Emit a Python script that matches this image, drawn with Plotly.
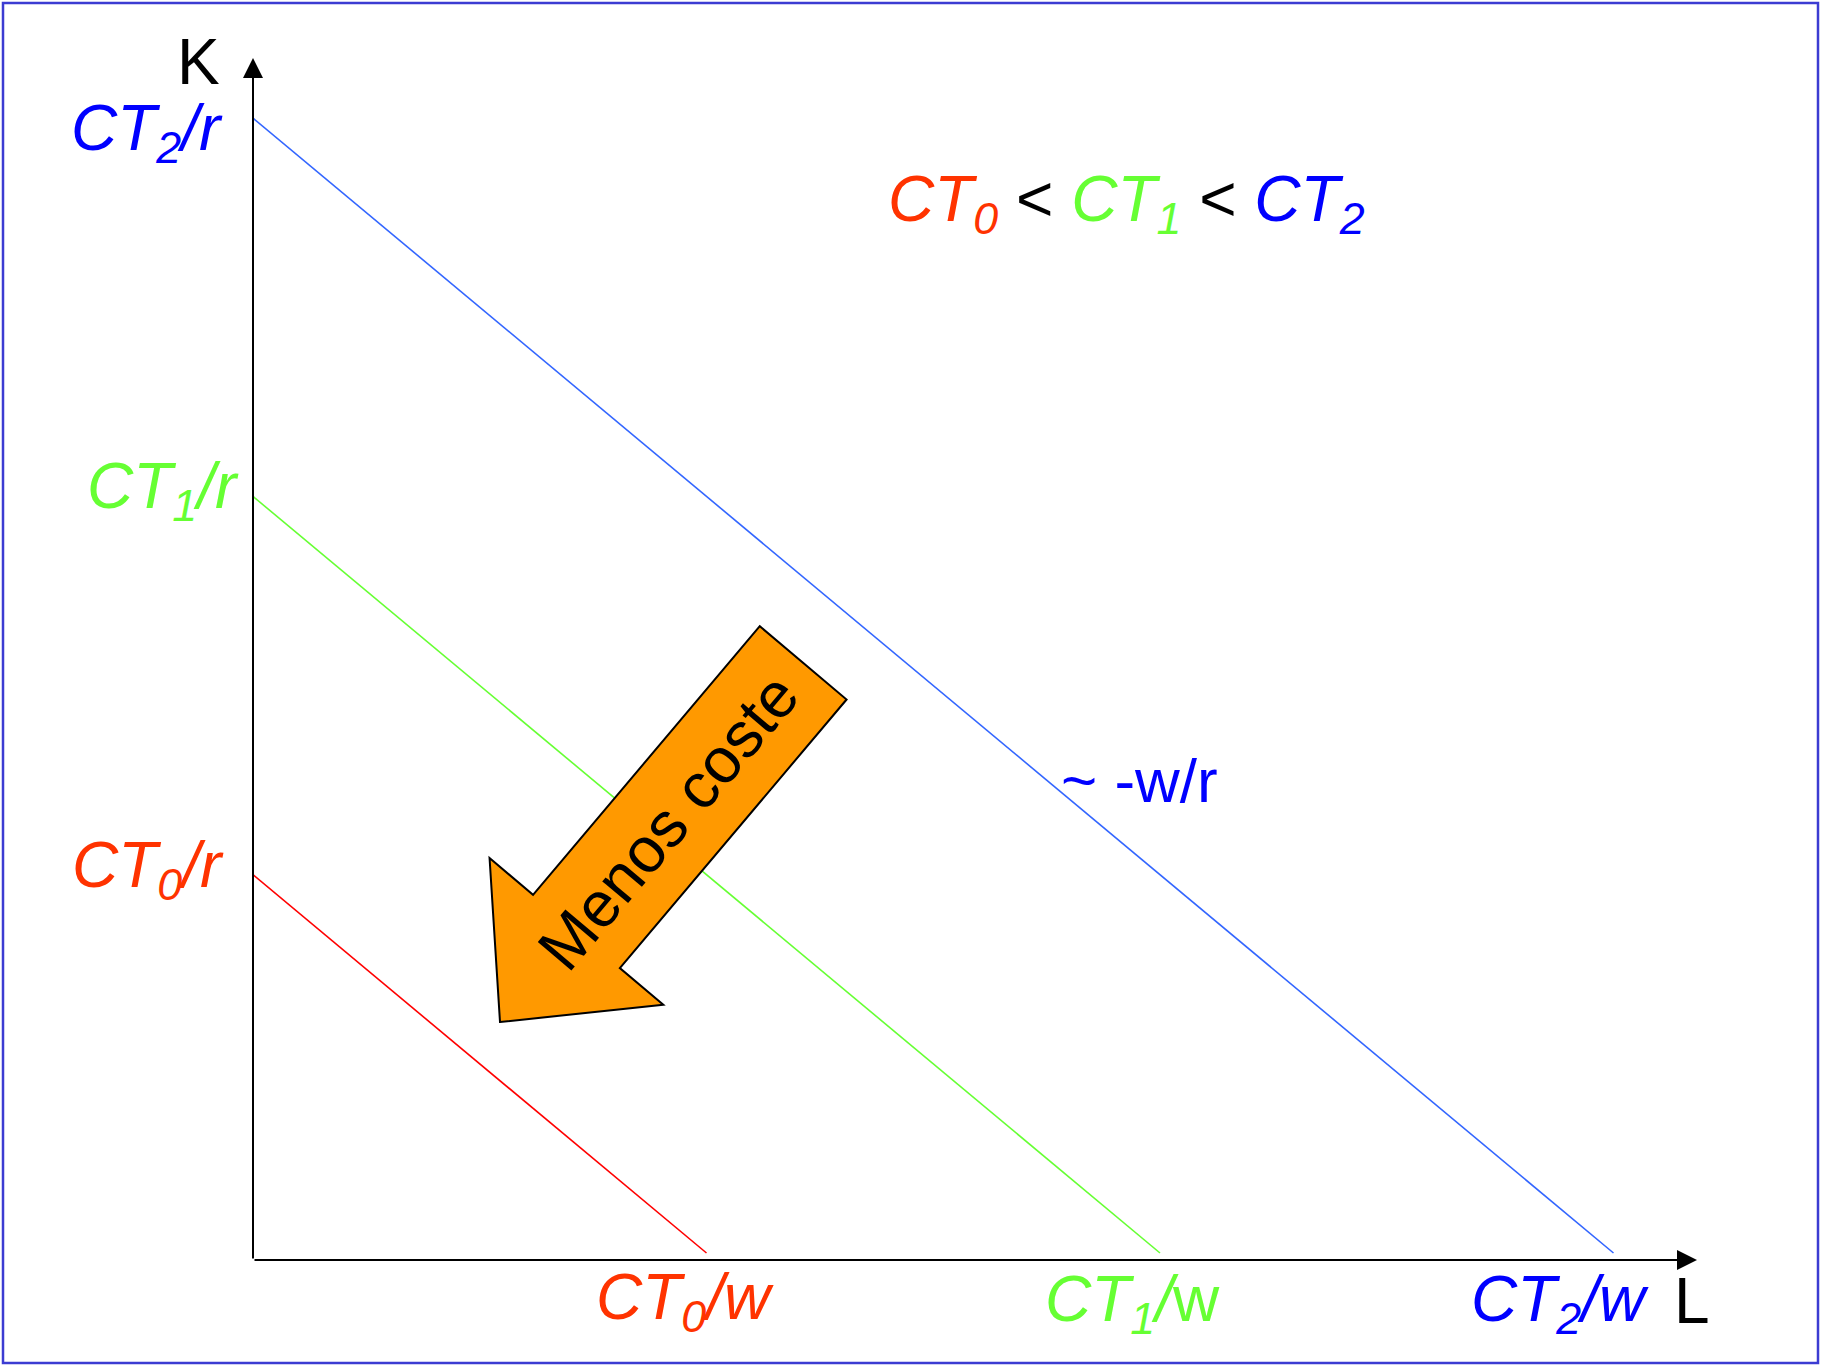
import math
import plotly.graph_objects as go

# ---------------- data ----------------
ct_levels = ["0", "1", "2"]            # subscripts of the cost levels CT0 < CT1 < CT2
K_intercepts = [1.0, 2.0, 3.0]         # CT/r  (capital axis intercepts)
L_intercepts = [1.0, 2.0, 3.0]         # CT/w  (labour axis intercepts)
line_colors = ["#ff0000", "#66ff33", "#3366ff"]
text_colors = ["#ff3300", "#66ff33", "#0000ff"]
w_italic = [True, False, True]         # the "w" in CT1/w is upright in the original

# ---------------- geometry (pixels <-> data) ----------------
W, H = 1821, 1366
OX, OY = 253.0, 1253.0     # pixel position of data origin
PX_L, PX_K = 453.5, 378.3  # pixels per data unit


def dx(px):
    return (px - OX) / PX_L


def dy(py):
    return (OY - py) / PX_K


FONT = "Liberation Sans, Arial, sans-serif"
FS = 64

fig = go.Figure()

# iso-cost lines
for k, col, lc in zip(K_intercepts, L_intercepts, line_colors):
    fig.add_trace(go.Scatter(x=[0, col], y=[k, 0], mode="lines",
                             line=dict(color=lc, width=1.6),
                             hoverinfo="skip", showlegend=False))

ann = []
shapes = []

# axes with arrow heads
axis_y = dy(1260)
ann.append(dict(x=dx(1697), y=axis_y, ax=0, ay=axis_y, xref="x", yref="y",
                axref="x", ayref="y", text="", showarrow=True, arrowhead=2,
                arrowsize=2, arrowwidth=2, arrowcolor="black", standoff=0))
ann.append(dict(x=0, y=dy(58), ax=0, ay=axis_y, xref="x", yref="y",
                axref="x", ayref="y", text="", showarrow=True, arrowhead=2,
                arrowsize=2, arrowwidth=2, arrowcolor="black", standoff=0))

# axis titles
ann.append(dict(x=dx(198), y=dy(62), xref="x", yref="y", text="K", showarrow=False,
                font=dict(family=FONT, size=FS, color="black")))
ann.append(dict(x=dx(1692), y=dy(1301), xref="x", yref="y", text="L", showarrow=False,
                font=dict(family=FONT, size=FS, color="black")))

# intercept labels on K axis (order: CT0, CT1, CT2)
k_xshift = [-27, -12, -28]
k_yshift = [6, 6, -14]
for i, (s, k, tc) in enumerate(zip(ct_levels, K_intercepts, text_colors)):
    ann.append(dict(x=0, y=k, xref="x", yref="y",
                    text=f"<i>CT<sub>{s}</sub>/r</i>", showarrow=False,
                    xanchor="right", yanchor="middle",
                    xshift=k_xshift[i], yshift=k_yshift[i],
                    font=dict(family=FONT, size=FS, color=tc)))

# intercept labels on L axis
l_xshift = [-22, -28, -54]
l_yshift = [-48, -50, -50]
for i, (s, l, tc, it) in enumerate(zip(ct_levels, L_intercepts, text_colors, w_italic)):
    txt = f"<i>CT<sub>{s}</sub>/w</i>" if it else f"<i>CT<sub>{s}</sub>/</i>w"
    ann.append(dict(x=l, y=0, xref="x", yref="y", text=txt, showarrow=False,
                    xanchor="center", yanchor="middle",
                    xshift=l_xshift[i], yshift=l_yshift[i],
                    font=dict(family=FONT, size=FS, color=tc)))

# ordering of costs
parts = [f"<span style='color:{c}'><i>CT<sub>{s}</sub></i></span>"
         for s, c in zip(ct_levels, text_colors)]
order_txt = " &lt; ".join(parts)
ann.append(dict(x=dx(1126), y=dy(203), xref="x", yref="y", text=order_txt,
                showarrow=False, xanchor="center", yanchor="middle",
                font=dict(family=FONT, size=FS, color="black")))

# slope note
ann.append(dict(x=dx(1139), y=dy(780), xref="x", yref="y", text="~ -w/r",
                showarrow=False, xanchor="center", yanchor="middle",
                font=dict(family=FONT, size=62, color="#0000ff")))

# orange block arrow "Menos coste"
tip = (500.0, 1022.0)
ang = math.atan2(359.5, -303.5)          # direction of the arrow (screen coords)
ux, uy = math.cos(ang), math.sin(ang)
px_, py_ = uy, -ux                       # perpendicular
total_len, head_len = 470.0, 118.5
half_shaft, half_head = 56.8, 113.7


def pt(a, p):
    # a: distance back from tip along axis, p: perpendicular offset
    X = tip[0] - a * ux + p * px_
    Y = tip[1] - a * uy + p * py_
    return dx(X), dy(Y)


pts = [pt(0, 0), pt(head_len, half_head), pt(head_len, half_shaft),
       pt(total_len, half_shaft), pt(total_len, -half_shaft),
       pt(head_len, -half_shaft), pt(head_len, -half_head)]
path = "M " + " L ".join(f"{x:.5f},{y:.5f}" for x, y in pts) + " Z"
shapes.append(dict(type="path", path=path, xref="x", yref="y",
                   fillcolor="#ff9900", line=dict(color="black", width=2)))

ann.append(dict(x=dx(668), y=dy(822), xref="x", yref="y", text="Menos coste",
                showarrow=False, textangle=-49.8, xanchor="center", yanchor="middle",
                font=dict(family=FONT, size=64, color="black")))

# outer frame
shapes.append(dict(type="rect", xref="paper", yref="paper",
                   x0=3 / W, x1=1818 / W, y0=3 / H, y1=1363 / H,
                   line=dict(color="#3c3cd2", width=2.5), fillcolor="rgba(0,0,0,0)"))

fig.update_layout(
    width=W, height=H, margin=dict(l=0, r=0, t=0, b=0, pad=0),
    paper_bgcolor="white", plot_bgcolor="white",
    xaxis=dict(range=[dx(0), dx(W)], visible=False, fixedrange=True),
    yaxis=dict(range=[dy(H), dy(0)], visible=False, fixedrange=True),
    annotations=ann, shapes=shapes, showlegend=False,
)

fig.write_html("out.html", post_script="document.body.style.margin='0';",
               config={"displayModeBar": False})
